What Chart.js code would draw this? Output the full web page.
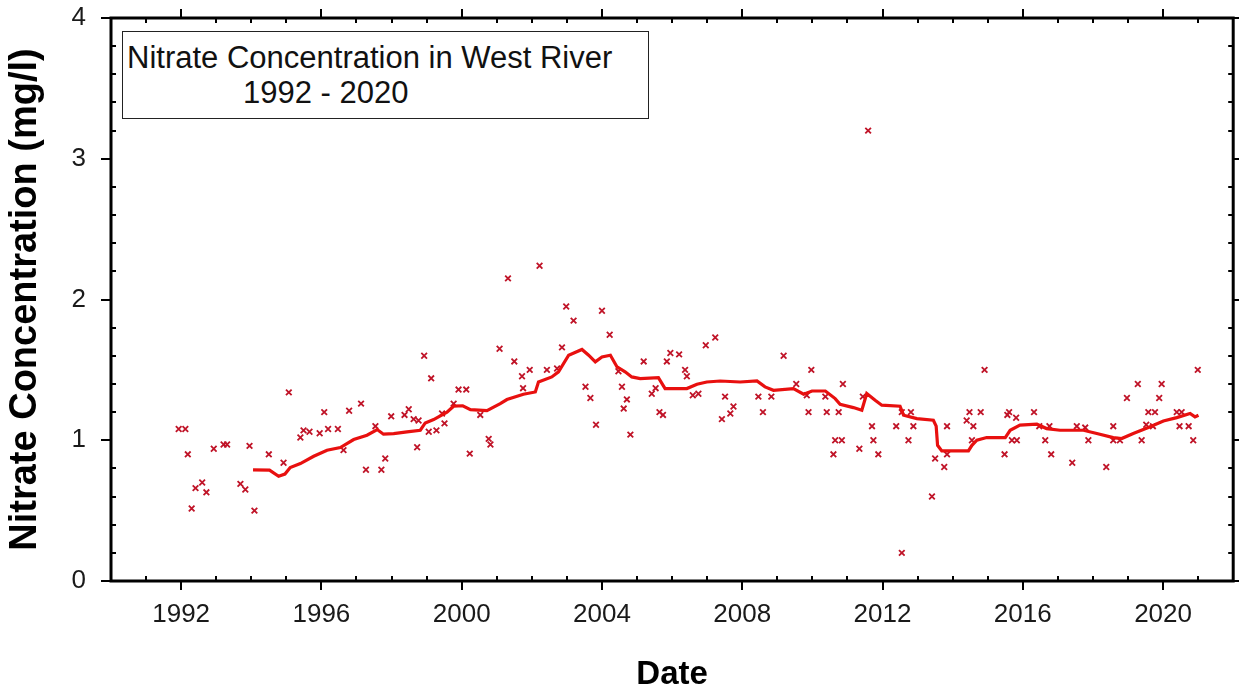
<!DOCTYPE html>
<html>
<head>
<meta charset="utf-8">
<script src="https://cdn.jsdelivr.net/npm/chart.js@4.4.1/dist/chart.umd.min.js"></script>
<style>
  html, body { margin: 0; padding: 0; background: #fff; }
  #wrap { position: relative; width: 1239px; height: 691px; }
  #title-box {
    position: absolute; left: 122px; top: 31px; width: 525px; height: 86px;
    border: 1.5px solid #222; background: #fff;
    font-family: Arial, "Liberation Sans", sans-serif; font-size: 31px; color: #111;
  }
  #title-box span { position: absolute; white-space: nowrap; line-height: 36px; }
</style>
</head>
<body>
<div id="wrap">
  <canvas id="nitrate-chart" width="1239" height="691"></canvas>
  <div id="title-box">
    <span style="left:4px; top:8px;">Nitrate Concentration in West River</span>
    <span style="left:120px; top:43px;">1992 - 2020</span>
  </div>
</div>
<script>
// ========================================
// Data
// ========================================
const sampleYears = [
  1991.93, 1992.12, 1992.19, 1992.30, 1992.41, 1992.60, 1992.72, 1992.93, 1993.21, 1993.31,
  1993.69, 1993.83, 1993.95, 1994.09, 1994.50, 1994.92, 1995.07, 1995.40, 1995.49, 1995.66,
  1995.95, 1996.08, 1996.19, 1996.47, 1996.63, 1996.79, 1997.13, 1997.27, 1997.54, 1997.71,
  1997.82, 1997.99, 1998.37, 1998.49, 1998.63, 1998.73, 1998.77, 1998.93, 1999.06, 1999.13,
  1999.28, 1999.44, 1999.51, 1999.77, 1999.91, 2000.13, 2000.23, 2000.53, 2000.77, 2000.82,
  2001.08, 2001.32, 2001.50, 2001.72, 2001.75, 2001.94, 2002.22, 2002.43, 2002.72, 2002.86,
  2002.98, 2003.19, 2003.53, 2003.67, 2003.83, 2004.00, 2004.22, 2004.47, 2004.57, 2004.62,
  2004.71, 2004.81, 2005.19, 2005.42, 2005.53, 2005.64, 2005.74, 2005.85, 2005.95, 2006.20,
  2006.37, 2006.42, 2006.59, 2006.75, 2006.96, 2007.23, 2007.42, 2007.51, 2007.66, 2007.75,
  2008.46, 2008.59, 2008.83, 2009.18, 2009.54, 2009.84, 2009.89, 2009.97, 2010.37, 2010.41,
  2010.60, 2010.65, 2010.75, 2010.84, 2010.87, 2011.34, 2011.44, 2011.59, 2011.70, 2011.74,
  2011.88, 2012.39, 2012.55, 2012.55, 2012.74, 2012.81, 2012.88, 2013.41, 2013.50, 2013.76,
  2013.84, 2013.84, 2014.40, 2014.48, 2014.55, 2014.59, 2014.80, 2014.91, 2015.48, 2015.56,
  2015.61, 2015.69, 2015.81, 2015.83, 2016.32, 2016.47, 2016.64, 2016.76, 2016.81, 2017.41,
  2017.54, 2017.78, 2017.87, 2018.38, 2018.58, 2018.58, 2018.77, 2018.97, 2019.28, 2019.39,
  2019.52, 2019.58, 2019.71, 2019.77, 2019.89, 2019.96, 2020.39, 2020.47, 2020.53, 2020.73,
  2020.86, 2020.99
];
const sampleValues = [
  1.08, 1.08, 0.90, 0.515, 0.66, 0.70, 0.63, 0.94, 0.97, 0.97,
  0.69, 0.65, 0.96, 0.50, 0.90, 0.84, 1.34, 1.02, 1.07, 1.06,
  1.05, 1.20, 1.08, 1.08, 0.93, 1.21, 1.26, 0.79, 1.10, 0.79,
  0.87, 1.17, 1.18, 1.22, 1.15, 0.95, 1.14, 1.60, 1.06, 1.44,
  1.07, 1.19, 1.12, 1.26, 1.36, 1.36, 0.905, 1.18, 1.01, 0.97,
  1.65, 2.15, 1.56, 1.455, 1.37, 1.50, 2.24, 1.50, 1.51, 1.66,
  1.95, 1.85, 1.38, 1.30, 1.11, 1.92, 1.75, 1.49, 1.38, 1.225,
  1.29, 1.04, 1.56, 1.33, 1.37, 1.20, 1.18, 1.56, 1.62, 1.61,
  1.50, 1.455, 1.32, 1.33, 1.675, 1.73, 1.15, 1.31, 1.19, 1.24,
  1.31, 1.20, 1.31, 1.60, 1.40, 1.32, 1.20, 1.50, 1.31, 1.20,
  0.90, 1.00, 1.20, 1.00, 1.40, 0.94, 1.31, 3.20, 1.10, 1.00,
  0.90, 1.10, 0.20, 1.20, 1.00, 1.20, 1.10, 0.60, 0.87, 0.81,
  0.90, 1.10, 1.14, 1.20, 1.00, 1.10, 1.20, 1.50, 0.90, 1.18,
  1.20, 1.00, 1.16, 1.00, 1.20, 1.10, 1.00, 1.10, 0.90, 0.84,
  1.10, 1.09, 1.00, 0.81, 1.10, 1.00, 1.00, 1.30, 1.40, 1.00,
  1.11, 1.20, 1.10, 1.20, 1.30, 1.40, 1.20, 1.10, 1.20, 1.10,
  1.00, 1.50
];

// running trend line
const trendYears = [
  1994.05, 1994.52, 1994.78, 1994.96, 1995.11, 1995.40, 1995.78, 1996.16, 1996.54, 1996.92,
  1997.30, 1997.59, 1997.77, 1998.06, 1998.44, 1998.82, 1998.96, 1999.20, 1999.58, 1999.77,
  2000.03, 2000.25, 2000.72, 2001.10, 2001.29, 2001.76, 2002.10, 2002.19, 2002.57, 2002.76,
  2003.05, 2003.43, 2003.62, 2003.81, 2004.00, 2004.24, 2004.43, 2004.66, 2004.85, 2005.09,
  2005.61, 2005.80, 2006.42, 2006.71, 2006.99, 2007.37, 2007.94, 2008.42, 2008.65, 2008.89,
  2009.46, 2009.75, 2009.99, 2010.37, 2010.65, 2010.79, 2011.17, 2011.41, 2011.55, 2011.79,
  2011.98, 2012.50, 2012.60, 2012.98, 2013.45, 2013.53, 2013.57, 2013.69, 2014.45, 2014.55,
  2014.69, 2014.97, 2015.50, 2015.64, 2015.92, 2016.40, 2016.68, 2017.06, 2017.73, 2018.11,
  2018.58, 2018.82, 2019.15, 2019.58, 2020.01, 2020.39, 2020.77, 2020.91, 2021.01
];
const trendValues = [
  0.790, 0.788, 0.744, 0.760, 0.806, 0.834, 0.886, 0.929, 0.948, 1.005,
  1.036, 1.076, 1.043, 1.047, 1.059, 1.071, 1.123, 1.147, 1.200, 1.242,
  1.245, 1.218, 1.210, 1.260, 1.289, 1.327, 1.343, 1.414, 1.450, 1.486,
  1.604, 1.645, 1.604, 1.557, 1.592, 1.604, 1.521, 1.486, 1.450, 1.438,
  1.445, 1.367, 1.367, 1.398, 1.414, 1.421, 1.414, 1.421, 1.379, 1.355,
  1.367, 1.327, 1.350, 1.350, 1.296, 1.256, 1.232, 1.213, 1.332, 1.284,
  1.249, 1.242, 1.178, 1.154, 1.142, 1.100, 0.964, 0.924, 0.924, 0.964,
  1.000, 1.019, 1.019, 1.071, 1.107, 1.114, 1.083, 1.071, 1.071, 1.048,
  1.019, 1.012, 1.048, 1.090, 1.137, 1.161, 1.190, 1.166, 1.178
];

// axes
const xRange = [1990, 2022];
const xTickYears = [1992, 1996, 2000, 2004, 2008, 2012, 2016, 2020];
const xMinorStep = 1;
const yRange = [0, 4];
const yTickValues = [0, 1, 2, 3, 4];
const yMinorStep = 0.2;

const colors = {
  marker: '#c01428',
  trend: '#e8100f',
  axis: '#000',
  tickText: '#1a1a1a'
};

const FONT = 'Arial, "Liberation Sans", sans-serif';

// ========================================
// Frame + tick marks (minor inward, major outward)
// ========================================
const frameTicks = {
  id: 'frameTicks',
  afterDraw(chart) {
    const { ctx, chartArea: a, scales: { x, y } } = chart;
    const majorLen = 9, minorLen = 5;
    ctx.save();
    ctx.strokeStyle = colors.axis;
    ctx.lineWidth = 2;
    ctx.beginPath();
    for (let v = x.min + xMinorStep; v < x.max; v += xMinorStep) {
      const px = Math.round(x.getPixelForValue(v));
      if (xTickYears.includes(v)) {
        ctx.moveTo(px, a.bottom); ctx.lineTo(px, a.bottom + majorLen);
        ctx.moveTo(px, a.top); ctx.lineTo(px, a.top - majorLen);
      } else {
        ctx.moveTo(px, a.bottom); ctx.lineTo(px, a.bottom - minorLen);
        ctx.moveTo(px, a.top); ctx.lineTo(px, a.top + minorLen);
      }
    }
    const n = Math.round((y.max - y.min) / yMinorStep);
    for (let i = 0; i <= n; i++) {
      const v = +(y.min + i * yMinorStep).toFixed(3);
      const py = Math.round(y.getPixelForValue(v));
      if (yTickValues.includes(v)) {
        ctx.moveTo(a.left, py); ctx.lineTo(a.left - majorLen - 1, py);
        ctx.moveTo(a.right, py); ctx.lineTo(a.right + majorLen, py);
      } else {
        ctx.moveTo(a.left, py); ctx.lineTo(a.left + minorLen, py);
        ctx.moveTo(a.right, py); ctx.lineTo(a.right - minorLen, py);
      }
    }
    ctx.stroke();
    ctx.lineWidth = 3;
    ctx.strokeRect(a.left, a.top, a.right - a.left, a.bottom - a.top);
    ctx.restore();
  }
};

// ========================================
// Chart
// ========================================
const toPoints = (xs, ys) => xs.map((v, i) => ({ x: v, y: ys[i] }));

new Chart(document.getElementById('nitrate-chart'), {
  type: 'scatter',
  data: {
    datasets: [
      {
        label: 'Trend',
        data: toPoints(trendYears, trendValues),
        showLine: true,
        borderColor: colors.trend,
        borderWidth: 3.2,
        pointRadius: 0,
        tension: 0
      },
      {
        label: 'Nitrate',
        data: toPoints(sampleYears, sampleValues),
        showLine: false,
        pointStyle: 'crossRot',
        pointRadius: 4,
        borderColor: colors.marker,
        borderWidth: 1.8
      }
    ]
  },
  options: {
    responsive: false,
    animation: false,
    devicePixelRatio: 1,
    layout: { padding: { top: 18, right: 4, left: 0, bottom: 0 } },
    plugins: {
      legend: { display: false },
      tooltip: { enabled: false }
    },
    scales: {
      x: {
        type: 'linear',
        min: xRange[0],
        max: xRange[1],
        afterFit: (scale) => { scale.height = 110; },
        afterBuildTicks: (scale) => { scale.ticks = xTickYears.map(v => ({ value: v })); },
        // tick marks are drawn by the frameTicks plugin; tickLength only spaces the labels
        grid: { display: false, drawTicks: true, tickLength: 21 },
        border: { display: false },
        ticks: {
          autoSkip: false,
          maxRotation: 0,
          padding: 0,
          color: colors.tickText,
          font: { family: FONT, size: 26, lineHeight: 1 },
          callback: (v) => String(v)
        },
        title: {
          display: true,
          text: 'Date',
          color: '#000',
          padding: { top: 0, bottom: 0 },
          font: { family: FONT, size: 33, weight: 'bold', lineHeight: 1 }
        }
      },
      y: {
        type: 'linear',
        min: yRange[0],
        max: yRange[1],
        afterFit: (scale) => { scale.width = 111; },
        afterBuildTicks: (scale) => { scale.ticks = yTickValues.map(v => ({ value: v })); },
        grid: { display: false, drawTicks: true, tickLength: 25 },
        border: { display: false },
        ticks: {
          padding: 0,
          color: colors.tickText,
          font: { family: FONT, size: 26, lineHeight: 1 },
          callback: (v) => String(v)
        },
        title: {
          display: true,
          text: 'Nitrate Concentration (mg/l)',
          color: '#000',
          padding: { top: 7, bottom: 0 },
          font: { family: FONT, size: 38, weight: 'bold', lineHeight: 1 }
        }
      }
    }
  },
  plugins: [frameTicks]
});
</script>
</body>
</html>
